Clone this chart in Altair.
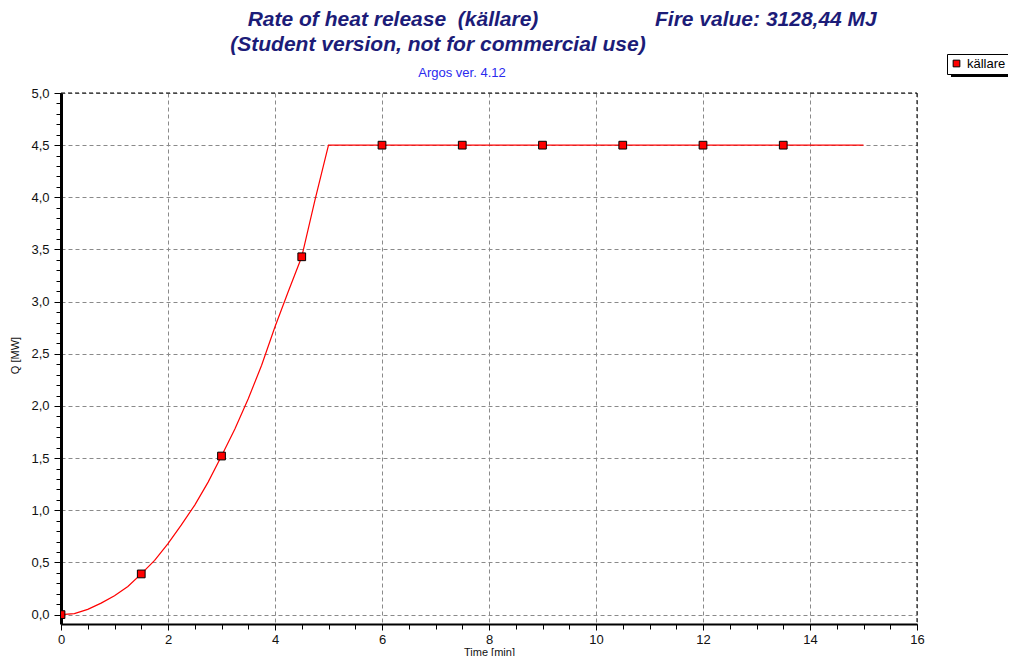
import altair as alt
import pandas as pd

# ---- data ----
curve_t = [0.0, 0.25, 0.5, 0.75, 1.0, 1.25, 1.5, 1.75, 2.0, 2.25, 2.5, 2.75,
           3.0, 3.25, 3.5, 3.75, 4.0, 4.25, 4.5, 4.75, 5.0, 15.0]
curve_q = [0.0, 0.01, 0.05, 0.11, 0.18, 0.27, 0.39, 0.52, 0.68, 0.86, 1.05, 1.27,
           1.52, 1.78, 2.07, 2.39, 2.76, 3.10, 3.43, 3.98, 4.5, 4.5]
marker_t = [0.0, 1.5, 3.0, 4.5, 6.0, 7.5, 9.0, 10.5, 12.0, 13.5]
marker_q = [0.0, 0.39, 1.52, 3.43, 4.5, 4.5, 4.5, 4.5, 4.5, 4.5]
series_name = "källare"

x_major_ticks = [0, 2, 4, 6, 8, 10, 12, 14, 16]
x_minor_ticks = [0, 0.5, 1, 1.5, 2, 2.5, 3, 3.5, 4, 4.5, 5, 5.5, 6, 6.5, 7, 7.5, 8,
                 8.5, 9, 9.5, 10, 10.5, 11, 11.5, 12, 12.5, 13, 13.5, 14, 14.5, 15,
                 15.5, 16]
y_major_ticks = [0, 0.5, 1, 1.5, 2, 2.5, 3, 3.5, 4, 4.5, 5]
y_minor_ticks = [round(i * 0.1, 1) for i in range(51)]

title_line1 = "Rate of heat release \u00a0(källare)"
title_fire = "Fire value: 3128,44 MJ"
title_line2 = "(Student version, not for commercial use)"
subtitle = "Argos ver. 4.12"
x_title = "Time [min]"
y_title = "Q [MW]"

FONT = "Liberation Sans"
W, H = 856, 531
NAVY = "#1c1c78"

curve_df = pd.DataFrame({"t": curve_t, "q": curve_q})
marker_df = pd.DataFrame({"t": marker_t, "q": marker_q, "series": [series_name] * len(marker_t)})

xscale = alt.Scale(domain=[0, 16], nice=False, zero=False)
yscale = alt.Scale(domain=[-0.09, 5], nice=False, zero=False)

x_major = alt.Axis(values=x_major_ticks, format="d", grid=True, gridColor="#8a8a8a",
                   gridDash=[4, 3], gridWidth=1, domain=True, domainColor="black",
                   domainWidth=2, ticks=True, tickColor="black", tickSize=6,
                   labelFont=FONT, labelFontSize=13, labelColor="#111111",
                   labelPadding=3, labelFlush=False, title=x_title, titleFont=FONT,
                   titleFontSize=11, titleFontWeight="normal", titleColor="#111111",
                   titleY=22, titleBaseline="top")
y_major = alt.Axis(values=y_major_ticks,
                   labelExpr="replace(format(datum.value, '.1f'), '.', ',')",
                   grid=True, gridColor="#8a8a8a", gridDash=[4, 3], gridWidth=1,
                   domain=True, domainColor="black", domainWidth=3, ticks=True,
                   tickColor="black", tickSize=7, labelFont=FONT, labelFontSize=13,
                   labelColor="#111111", labelPadding=5, labelFlush=False,
                   title=y_title, titleFont=FONT, titleFontSize=11,
                   titleFontWeight="normal", titleColor="#111111", titleX=-46,
                   titleY=262, titleAngle=270, titleAlign="center",
                   titleBaseline="middle")
x_minor = alt.Axis(values=x_minor_ticks, orient="bottom", labels=False, grid=False,
                   domain=False, ticks=True, tickColor="black", tickSize=5, title=None)
y_minor = alt.Axis(values=y_minor_ticks, orient="left", labels=False, grid=False,
                   domain=False, ticks=True, tickColor="black", tickSize=5, title=None)

line = alt.Chart(curve_df).mark_line(color="#ff0000", strokeWidth=1.2).encode(
    x=alt.X("t:Q", scale=xscale, axis=x_major),
    y=alt.Y("q:Q", scale=yscale, axis=y_major),
)

points = alt.Chart(marker_df).mark_point(
    shape="square", filled=True, size=60, stroke="black", strokeWidth=1,
    opacity=1, clip=True
).encode(
    x=alt.X("t:Q", scale=xscale, axis=x_minor),
    y=alt.Y("q:Q", scale=yscale, axis=y_minor),
    fill=alt.Fill("series:N", scale=alt.Scale(domain=[series_name], range=["#ff0000"]),
                  legend=alt.Legend(orient="none", legendX=886, legendY=-39, title=None,
                                    fillColor="white", strokeColor="black", padding=3,
                                    symbolType="square", symbolSize=45,
                                    symbolStrokeColor="black", symbolStrokeWidth=1,
                                    symbolFillColor="#ff0000",
                                    labelFont=FONT, labelFontSize=13,
                                    labelColor="black", labelOffset=4)),
)

dummy = pd.DataFrame({"d": [0]})
border_right = alt.Chart(dummy).mark_rule(color="black", strokeDash=[4, 3], strokeWidth=1).encode(
    x=alt.value(W), y=alt.value(0), y2=alt.value(H))
border_top = alt.Chart(dummy).mark_rule(color="black", strokeDash=[4, 3], strokeWidth=1).encode(
    y=alt.value(0), x=alt.value(0), x2=alt.value(W))
legend_shadow = alt.Chart(dummy).mark_rect(color="black").encode(
    x=alt.value(890), x2=alt.value(947), y=alt.value(-20), y2=alt.value(-16))


def label(txt, x, y, size, color, italic=True, align="center", weight="bold"):
    return alt.Chart(pd.DataFrame({"txt": [txt]})).mark_text(
        font=FONT, fontSize=size, fontStyle="italic" if italic else "normal",
        fontWeight=weight, color=color, align=align, baseline="middle"
    ).encode(text="txt:N", x=alt.value(x), y=alt.value(y))


t1 = label(title_line1, 332, -73, 21, NAVY)
t2 = label(title_fire, 594, -73, 21, NAVY, align="left")
t3 = label(title_line2, 377, -48, 21, NAVY)
t4 = label(subtitle, 401, -20, 13, "#2a2aee", italic=False, weight="normal")

chart = alt.layer(
    line, legend_shadow, points, border_right, border_top, t1, t2, t3, t4
).resolve_axis(x="independent", y="independent").properties(
    width=W, height=H,
    autosize=alt.AutoSizeParams(type="none"),
    padding={"left": 53, "top": 85, "right": 91, "bottom": 32},
    background="white",
).configure_view(stroke=None)

chart.save("out.html", embed_options={"renderer": "svg", "actions": False})
